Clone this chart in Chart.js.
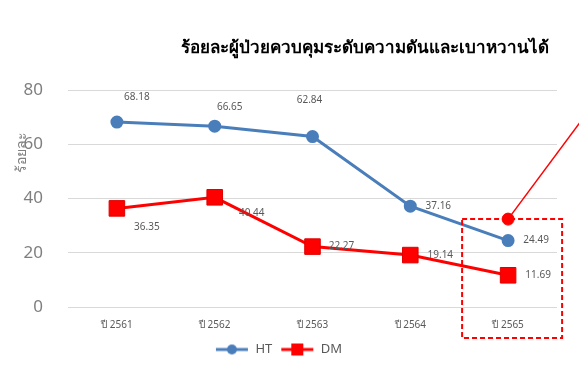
<!DOCTYPE html>
<html>
<head>
<meta charset="utf-8">
<script src="https://cdn.jsdelivr.net/npm/chart.js@4/dist/chart.umd.min.js"></script>
<style>
  html, body { margin: 0; padding: 0; background: #fff; }
  #wrap { width: 579px; height: 385px; }
</style>
</head>
<body>
<div id="wrap"><canvas id="chart"></canvas></div>
<script>
var years = ['ปี 2561', 'ปี 2562', 'ปี 2563', 'ปี 2564', 'ปี 2565'];
var htValues = [68.18, 66.65, 62.84, 37.16, 24.49];
var dmValues = [36.35, 40.44, 22.27, 19.14, 11.69];
var markValues = [null, null, null, null, 32.4];
var yTicks = [0, 20, 40, 60, 80];
var titleText = 'ร้อยละผู้ป่วยควบคุมระดับความดันและเบาหวานได้';
var yTitle = 'ร้อยละ';

var blue = '#4a7ebb';
var red = '#ff0000';
var font = '"Noto Sans", "DejaVu Sans", sans-serif';

// legend icon: line with marker in the middle
function legendIcon(color, shape) {
    var c = document.createElement('canvas');
    c.width = 34;
    c.height = 14;
    var g = c.getContext('2d');
    g.strokeStyle = color;
    g.lineWidth = 3;
    g.beginPath();
    g.moveTo(1, 7);
    g.lineTo(33, 7);
    g.stroke();
    g.fillStyle = color;
    if (shape === 'circle') {
        g.beginPath();
        g.arc(17, 7, 5, 0, Math.PI * 2);
        g.fill();
    } else {
        g.fillRect(11, 1, 12, 12);
    }
    return c;
}

var extras = {
    id: 'extras',
    afterDatasetsDraw: function (chart) {
        var ctx = chart.ctx;
        var area = chart.chartArea;

        // value labels
        ctx.save();
        ctx.font = '10px ' + font;
        ctx.fillStyle = '#595959';
        ctx.textAlign = 'center';
        ctx.textBaseline = 'middle';
        chart.data.datasets.forEach(function (ds, i) {
            if (!ds.labelOffsets) return;
            chart.getDatasetMeta(i).data.forEach(function (pt, j) {
                var off = ds.labelOffsets[j];
                ctx.fillText(ds.data[j].toFixed(2), pt.x + off[0], pt.y + off[1]);
            });
        });
        ctx.restore();

        // red pointer line and dashed box round the last year
        var mp = chart.getDatasetMeta(2).data[4];
        ctx.save();
        ctx.strokeStyle = red;
        ctx.lineWidth = 1.5;
        ctx.beginPath();
        ctx.moveTo(mp.x, mp.y);
        ctx.lineTo(mp.x + 128, mp.y - 172);
        ctx.stroke();

        ctx.lineWidth = 2;
        ctx.setLineDash([5, 3]);
        ctx.strokeRect(mp.x - 46, mp.y, 100, 338 - mp.y);
        ctx.restore();

        // title
        ctx.save();
        ctx.font = 'bold 17px ' + font;
        ctx.fillStyle = '#000';
        ctx.textAlign = 'right';
        ctx.textBaseline = 'middle';
        ctx.fillText(titleText, area.right - 8, 48);
        ctx.restore();

        // y axis title
        ctx.save();
        ctx.translate(22, 152);
        ctx.rotate(-Math.PI / 2);
        ctx.font = '14px ' + font;
        ctx.fillStyle = '#808080';
        ctx.textAlign = 'center';
        ctx.textBaseline = 'middle';
        ctx.fillText(yTitle, 0, 0);
        ctx.restore();
    }
};

var ctx = document.getElementById('chart').getContext('2d');
var chart = new Chart(ctx, {
    type: 'line',
    data: {
        labels: years,
        datasets: [{
            label: 'HT',
            data: htValues,
            borderColor: blue,
            backgroundColor: blue,
            borderWidth: 3,
            pointStyle: 'circle',
            pointRadius: 5,
            pointHoverRadius: 5,
            labelOffsets: [[20, -25], [15, -19], [-3, -36], [28, 0], [28, 0]]
        }, {
            label: 'DM',
            data: dmValues,
            borderColor: red,
            backgroundColor: red,
            pointBorderColor: '#e00000',
            borderWidth: 3,
            pointStyle: 'rect',
            pointRadius: 11,
            pointHoverRadius: 11,
            pointBorderWidth: 1,
            labelOffsets: [[30, 19], [37, 16], [29, 0], [30, 0], [30, 0]]
        }, {
            label: 'mark',
            data: markValues,
            showLine: false,
            borderColor: red,
            backgroundColor: red,
            pointRadius: 6,
            pointHoverRadius: 6
        }]
    },
    options: {
        responsive: true,
        maintainAspectRatio: false,
        animation: false,
        layout: {
            padding: { top: 90, right: 22, left: 0, bottom: 19 }
        },
        scales: {
            x: {
                offset: true,
                grid: { display: false },
                border: { display: false },
                afterFit: function (s) { s.height = 28; },
                ticks: {
                    color: '#595959',
                    font: { size: 10, family: font },
                    padding: 4
                }
            },
            y: {
                min: 0,
                max: 80,
                afterBuildTicks: function (s) {
                    s.ticks = yTicks.map(function (v) { return { value: v }; });
                },
                afterFit: function (s) { s.width = 68; },
                grid: { color: '#d9d9d9', drawTicks: false, lineWidth: 1 },
                border: { display: false },
                ticks: {
                    color: '#7f7f7f',
                    font: { size: 17, family: font },
                    padding: 25
                }
            }
        },
        plugins: {
            tooltip: { enabled: false },
            legend: {
                position: 'bottom',
                labels: {
                    usePointStyle: true,
                    pointStyleWidth: 34,
                    padding: 8,
                    color: '#595959',
                    font: { size: 13, family: font },
                    generateLabels: function (c) {
                        return [
                            { text: 'HT', pointStyle: legendIcon(blue, 'circle'), fillStyle: blue, strokeStyle: blue, lineWidth: 0, fontColor: '#595959', datasetIndex: 0 },
                            { text: 'DM', pointStyle: legendIcon(red, 'rect'), fillStyle: red, strokeStyle: red, lineWidth: 0, fontColor: '#595959', datasetIndex: 1 }
                        ];
                    }
                }
            }
        }
    },
    plugins: [extras]
});
</script>
</body>
</html>
